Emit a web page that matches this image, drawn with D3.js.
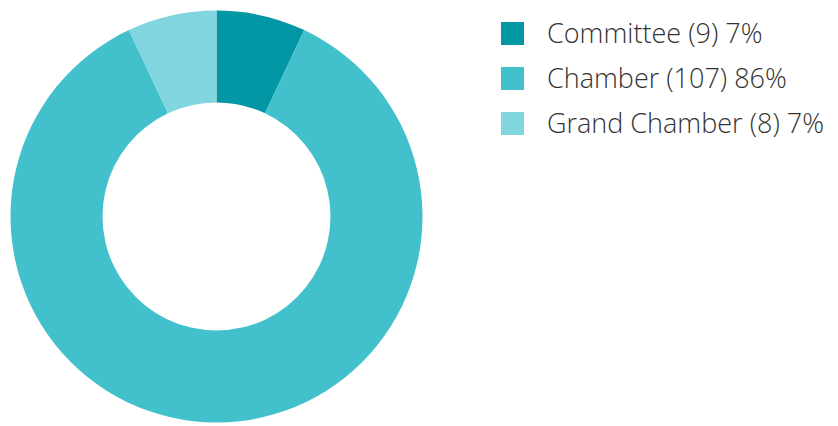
<!DOCTYPE html>
<html>
<head>
<meta charset="utf-8">
<script src="https://cdn.jsdelivr.net/npm/d3@7"></script>
<style>
  html, body { margin: 0; padding: 0; background: #fff; }
  svg { display: block; }
  .legend text { font-family: "Open Sans", sans-serif; font-weight: 300; fill: #333; }
</style>
</head>
<body>
<svg id="chart" width="838" height="426"></svg>
<script>
// Judgments by formation
const categories = ["Committee", "Chamber", "Grand Chamber"];
const counts = [9, 107, 8];
const percents = [7, 86, 7];
const colors = ["#0397a6", "#42c0cc", "#81d5de"];

const svg = d3.select("#chart");
const cx = 216.5, cy = 216.5, outerR = 206, innerR = 114;

// Slices are sized by the stated percentage shares
const pie = d3.pie().sort(null).value(d => d.pct);
const arc = d3.arc().innerRadius(innerR).outerRadius(outerR);
const color = d3.scaleOrdinal().domain(categories).range(colors);

const data = categories.map((c, i) => ({ name: c, count: counts[i], pct: percents[i] }));

svg.append("g")
  .attr("transform", `translate(${cx},${cy})`)
  .selectAll("path")
  .data(pie(data))
  .join("path")
  .attr("d", arc)
  .attr("fill", d => color(d.data.name));

// Legend
const rowY = d3.scalePoint().domain(categories).range([22, 112]);
const legend = svg.append("g").attr("class", "legend");
const rows = legend.selectAll("g")
  .data(data)
  .join("g")
  .attr("transform", d => `translate(501,${rowY(d.name)})`);

rows.append("rect")
  .attr("width", 23).attr("height", 23)
  .attr("fill", d => color(d.name));

rows.append("text")
  .attr("x", 46).attr("y", 21)
  .style("font-size", "27px")
  .text(d => `${d.name} (${d.count}) ${d.pct}%`);
</script>
</body>
</html>
